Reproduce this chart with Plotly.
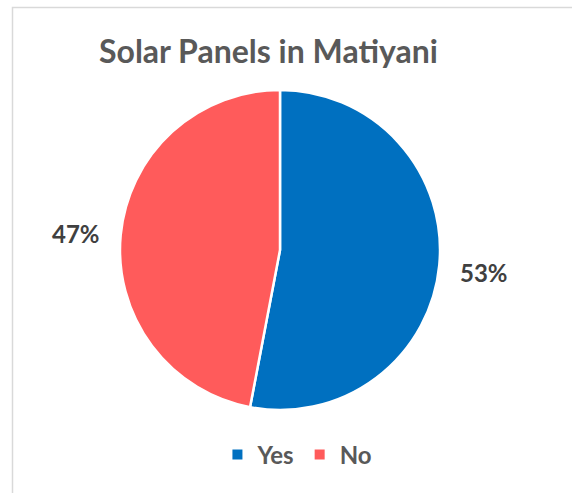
import math
import plotly.graph_objects as go

# Survey result: households with solar panels
labels = ["Yes", "No"]
values = [53, 47]
colors = ["#0070C0", "#FF5B5B"]
title_text = "Solar Panels in Matiyani"

W, H = 572, 493
cx, cy, r = 280, 250, 160  # pie centre and radius in pixels

fig = go.Figure()
fig.add_trace(go.Pie(
    labels=labels,
    values=values,
    sort=False,
    direction="clockwise",
    rotation=0,
    marker=dict(colors=colors, line=dict(color="white", width=2.5)),
    textinfo="none",
    hoverinfo="label+percent",
    domain=dict(x=[(cx - r) / W, (cx + r) / W], y=[1 - (cy + r) / H, 1 - (cy - r) / H]),
    showlegend=True,
))

# Percentage labels placed outside each slice at its mid-angle
total = sum(values)
start = 0.0
annotations = []
label_r = 205
for lab, v in zip(labels, values):
    frac = v / total
    mid = (start + frac / 2) * 2 * math.pi
    start += frac
    px = cx + label_r * math.sin(mid)
    py = cy - label_r * math.cos(mid) + 3
    annotations.append(dict(
        x=px / W, y=1 - py / H, xref="paper", yref="paper",
        text=f"{round(frac * 100)}%", showarrow=False,
        font=dict(family="Lato", size=24, color="#404040", weight="bold"),
        xanchor="center", yanchor="middle",
    ))

annotations.append(dict(
    x=268 / W, y=1 - 50 / H, xref="paper", yref="paper",
    text=title_text, showarrow=False,
    font=dict(family="Lato", size=32, color="#595959", weight="bold"),
    xanchor="center", yanchor="middle",
))

fig.update_layout(
    width=W, height=H,
    margin=dict(l=0, r=0, t=0, b=0),
    paper_bgcolor="white",
    plot_bgcolor="white",
    annotations=annotations,
    legend=dict(
        orientation="h", x=0.52, xanchor="center", y=1 - 455 / H, yanchor="middle",
        font=dict(family="Lato", size=24, color="#595959", weight="bold"),
        itemsizing="constant",
        traceorder="normal",
    ),
    shapes=[dict(
        type="rect", xref="paper", yref="paper",
        x0=12.5 / W, x1=1.05, y0=-0.05, y1=1 - 7.5 / H,
        line=dict(color="#D9D9D9", width=1.5), fillcolor="rgba(0,0,0,0)",
        layer="below",
    )],
)

fig.write_html("out.html")
